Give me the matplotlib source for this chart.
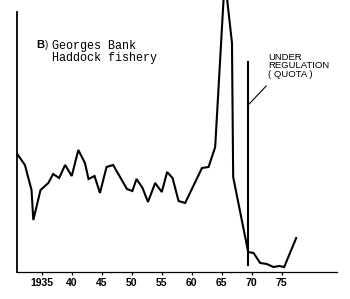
import matplotlib
matplotlib.use('Agg')
import matplotlib.pyplot as plt

# Georges Bank haddock catch (thousand t)
years = [1930.8, 1932.2, 1933.3, 1933.6, 1934.8, 1936.1, 1936.9, 1937.9, 1938.9, 1940.0,
         1941.1, 1942.2, 1942.8, 1943.8, 1944.7, 1945.8, 1946.9, 1949.2, 1950.1, 1950.8,
         1951.8, 1952.7, 1953.9, 1955.0, 1955.9, 1956.8, 1957.8, 1958.9, 1961.7, 1962.8,
         1963.9, 1965.5, 1966.7, 1966.9, 1969.4, 1970.3, 1971.4, 1972.5, 1973.6, 1974.6,
         1975.4, 1977.4]
catch = [59.5, 53.5, 41, 26, 41, 44.5, 49, 47, 53.5, 48,
         61, 54.5, 46.5, 48, 39.5, 52.5, 53.5, 41.5, 40.5, 46.5,
         42, 35, 44.5, 40, 50, 47, 35.5, 34.5, 52, 52.5,
         62.5, 147, 114.5, 47.5, 10, 9.5, 4.5, 4, 2.5, 3,
         2.5, 17]

tick_years = [1935, 1940, 1945, 1950, 1955, 1960, 1965, 1970, 1975]
tick_labels = ['1935', '40', '45', '50', '55', '60', '65', '70', '75']

quota_year = 1969.4
title = 'Georges Bank\nHaddock fishery'
note = 'UNDER\nREGULATION\n( QUOTA )'

W, H = 350, 299
fig = plt.figure(figsize=(3.5, 2.99), dpi=100)
ax = fig.add_axes([17 / W, (H - 272) / H, 320 / W, 272 / H])

ax.plot(years, catch, color='k', lw=1.5, solid_joinstyle='miter')

# quota line + pointer
ax.plot([quota_year, quota_year], [3.5, 105], color='k', lw=1.5)
ax.plot([quota_year + 0.15, 1972.4], [84, 93], color='k', lw=0.8)
ax.text(1972.7, 109.5, note, fontsize=6.8, family='Liberation Sans',
        va='top', ha='left', linespacing=0.92)

ax.set_xlim(1930.88, 1984.2)
ax.set_ylim(0, 136)

for s in ['top', 'right']:
    ax.spines[s].set_visible(False)
ax.spines['left'].set_bounds(0, 130)
ax.spines['left'].set_linewidth(1.3)
ax.spines['bottom'].set_linewidth(0.9)

ax.set_yticks([])
ax.set_xticks(tick_years)
ax.set_xticklabels(tick_labels, family='Liberation Sans', fontsize=7.5, fontweight='bold')
ax.tick_params(axis='x', direction='out', length=2.5, width=0.9, pad=1.5)

fig.text(36 / W, 1 - 40 / H, 'B', fontsize=8, family='Liberation Sans',
         fontweight='bold', va='top', ha='left')
fig.text(45 / W, 1 - 40 / H, ')', fontsize=7, family='Liberation Sans',
         va='top', ha='left')
fig.text(52 / W, 1 - 40 / H, title, fontsize=8.5, family='Liberation Mono',
         va='top', ha='left', linespacing=1.05)

fig.savefig('out.png', dpi=100)
